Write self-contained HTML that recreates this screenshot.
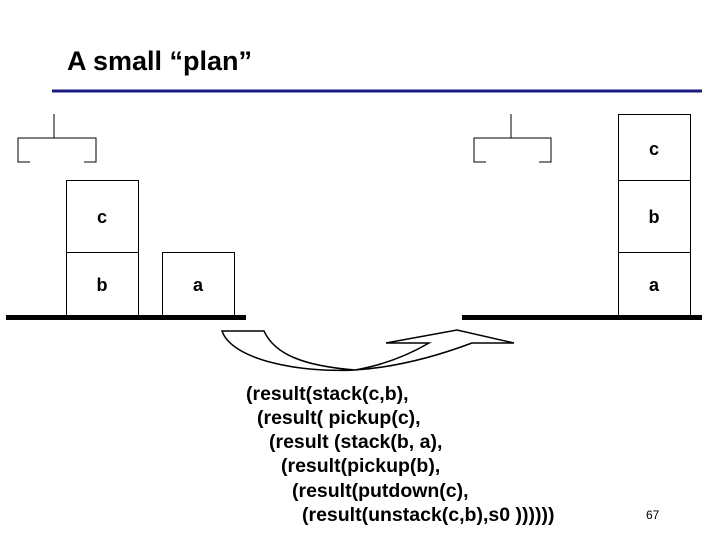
<!DOCTYPE html>
<html><head><meta charset="utf-8"><style>
body{margin:0;background:#fff;}
svg{display:block;}
text{font-family:"Liberation Sans",Arial,sans-serif;}
</style></head><body>
<svg width="720" height="540" viewBox="0 0 720 540" xmlns="http://www.w3.org/2000/svg">
<text x="67" y="70" font-size="27" font-weight="bold">A small “plan”</text>
<line x1="52" y1="91" x2="702" y2="91" stroke="#1a1a80" stroke-width="3"/>
<g fill="none" stroke="#000" stroke-width="1">
<polyline points="54,114 54,138"/>
<polyline points="30,162 18,162 18,138 96,138 96,162 84,162"/>
<polyline points="511,114 511,138"/>
<polyline points="486,162 474,162 474,138 551,138 551,162 539,162"/>
<rect x="66.5" y="180.5" width="72" height="72"/>
<rect x="66.5" y="252.5" width="72" height="63"/>
<rect x="162.5" y="252.5" width="72" height="63"/>
<rect x="618.5" y="114.5" width="72" height="66"/>
<rect x="618.5" y="180.5" width="72" height="72"/>
<rect x="618.5" y="252.5" width="72" height="63"/>
<path stroke-width="1.5" d="M222,331 C232,360 300,373 355,370 C400,367 440,355 472,343 L514,343 L457,330 L386,343 L429,343 C400,360 372,367 355,370 C305,366 275,355 264,331 Z"/>
</g>
<rect x="6" y="315" width="240" height="5" fill="#000"/>
<rect x="462" y="315" width="240" height="5" fill="#000"/>
<g font-size="18" font-weight="bold" text-anchor="middle">
<text x="102" y="223">c</text>
<text x="102" y="291">b</text>
<text x="198" y="291">a</text>
<text x="654" y="155">c</text>
<text x="654" y="223">b</text>
<text x="654" y="291">a</text>
</g>
<g font-size="19.5" font-weight="bold">
<text x="246" y="400">(result(stack(c,b),</text>
<text x="257" y="424">(result( pickup(c),</text>
<text x="269" y="448">(result (stack(b, a),</text>
<text x="281" y="472">(result(pickup(b),</text>
<text x="292" y="497">(result(putdown(c),</text>
<text x="302" y="521">(result(unstack(c,b),s0 ))))))</text>
</g>
<text x="646" y="519" font-size="12">67</text>
</svg>
</body></html>
